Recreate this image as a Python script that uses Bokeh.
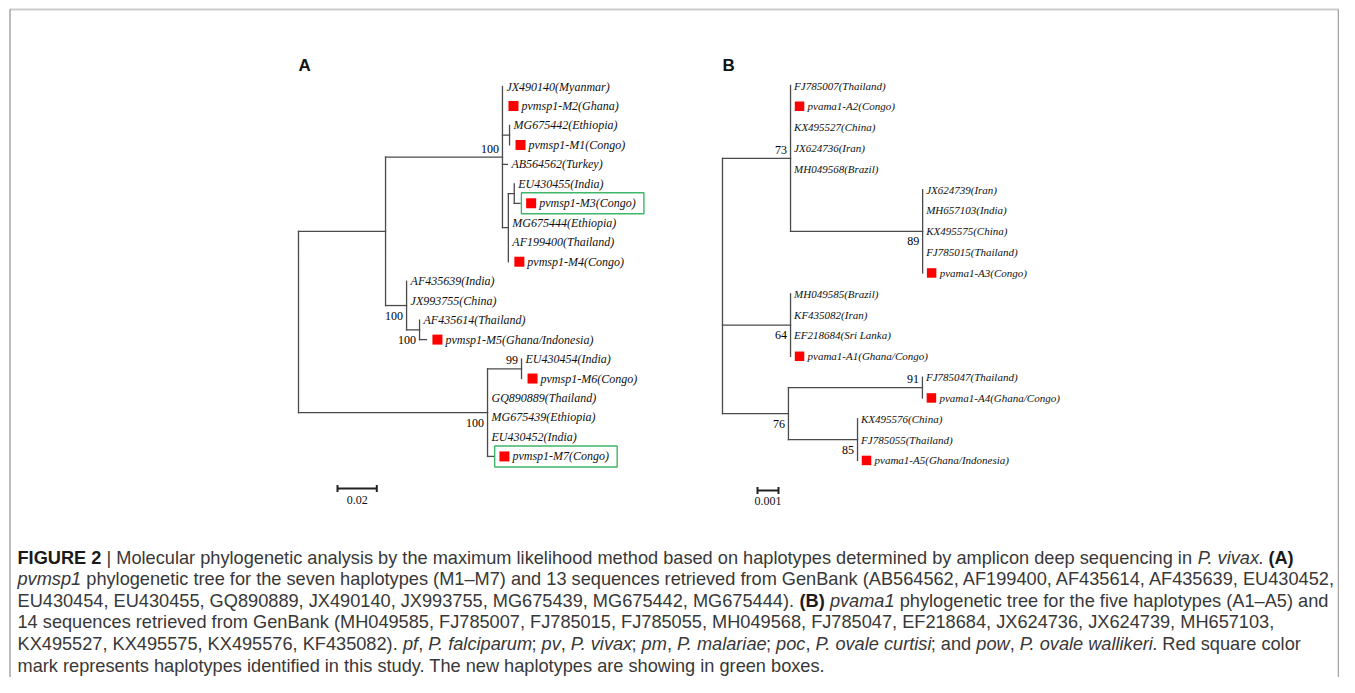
from bokeh.plotting import figure
from bokeh.models import Range1d, ColumnDataSource
from bokeh.core.properties import value
from bokeh.embed import file_html
from bokeh.resources import INLINE

# ------------------------------------------------------------------ data
# Tree A : pvmsp1  (nodes listed in pre-order, parents before children)
A_node = ["rA", "a1", "a1a", "JX490140(Myanmar)", "pvmsp1-M2(Ghana)", "a_mg",
          "MG675442(Ethiopia)", "pvmsp1-M1(Congo)", "AB564562(Turkey)", "a_big", "a_eu",
          "EU430455(India)", "pvmsp1-M3(Congo)", "MG675444(Ethiopia)", "AF199400(Thailand)",
          "pvmsp1-M4(Congo)", "a1b", "AF435639(India)", "JX993755(China)", "a_af",
          "AF435614(Thailand)", "pvmsp1-M5(Ghana/Indonesia)", "a2", "a_eu2", "EU430454(India)",
          "pvmsp1-M6(Congo)", "GQ890889(Thailand)", "MG675439(Ethiopia)", "EU430452(India)",
          "pvmsp1-M7(Congo)"]
A_parent = [None, "rA", "a1", "a1a", "a1a", "a1a", "a_mg", "a_mg", "a1a", "a1a", "a_big",
            "a_eu", "a_eu", "a_big", "a_big", "a_big", "a1", "a1b", "a1b", "a1b", "a_af",
            "a_af", "rA", "a2", "a_eu2", "a_eu2", "a2", "a2", "a2", "a2"]
A_length = [0, 0.0443, 0.0595, 0, 0, 0.0036, 0, 0, 0.0025, 0.003, 0.003, 0, 0.003, 0, 0, 0,
            0.0107, 0, 0, 0.0066, 0, 0.0035, 0.0962, 0.0173, 0, 0, 0, 0, 0, 0.003]
A_boot_node = ["a1a", "a1b", "a_af", "a2", "a_eu2"]
A_boot_value = [100, 100, 100, 100, 99]
A_boot_side = ["above", "below", "below", "below", "above"]
A_new = ["pvmsp1-M3(Congo)", "pvmsp1-M7(Congo)"]
A_scale = 0.02

# Tree B : pvama1
B_node = ["rB", "b73", "FJ785007(Thailand)", "pvama1-A2(Congo)", "KX495527(China)",
          "JX624736(Iran)", "MH049568(Brazil)", "b89", "JX624739(Iran)", "MH657103(India)",
          "KX495575(China)", "FJ785015(Thailand)", "pvama1-A3(Congo)", "b64",
          "MH049585(Brazil)", "KF435082(Iran)", "EF218684(Sri Lanka)", "pvama1-A1(Ghana/Congo)",
          "b76", "b91", "FJ785047(Thailand)", "pvama1-A4(Ghana/Congo)", "b85",
          "KX495576(China)", "FJ785055(Thailand)", "pvama1-A5(Ghana/Indonesia)"]
B_parent = [None, "rB", "b73", "b73", "b73", "b73", "b73", "b73", "b89", "b89", "b89", "b89",
            "b89", "rB", "b64", "b64", "b64", "b64", "rB", "b76", "b91", "b91", "b76", "b85",
            "b85", "b85"]
B_length = [0, 0.00324, 0, 0, 0, 0, 0, 0.00629, 0, 0, 0, 0, 0, 0.00324, 0, 0, 0, 0,
            0.00314, 0.00638, 0, 0, 0.00329, 0, 0, 0]
B_boot_node = ["b73", "b89", "b64", "b91", "b76", "b85"]
B_boot_value = [73, 89, 64, 91, 76, 85]
B_boot_side = ["above", "below", "below", "above", "below", "below"]
B_new = []
B_scale = 0.001

CAPTION = [
    [("b", "FIGURE 2"), ("r", " | Molecular phylogenetic analysis by the maximum likelihood method based on haplotypes determined by amplicon deep sequencing in "), ("i", "P. vivax"), ("r", ". "), ("b", "(A)")],
    [("i", "pvmsp1"), ("r", " phylogenetic tree for the seven haplotypes (M1\u2013M7) and 13 sequences retrieved from GenBank (AB564562, AF199400, AF435614, AF435639, EU430452,")],
    [("r", "EU430454, EU430455, GQ890889, JX490140, JX993755, MG675439, MG675442, MG675444). "), ("b", "(B)"), ("i", " pvama1"), ("r", " phylogenetic tree for the five haplotypes (A1\u2013A5) and")],
    [("r", "14 sequences retrieved from GenBank (MH049585, FJ785007, FJ785015, FJ785055, MH049568, FJ785047, EF218684, JX624736, JX624739, MH657103,")],
    [("r", "KX495527, KX495575, KX495576, KF435082). "), ("i", "pf"), ("r", ", "), ("i", "P. falciparum"), ("r", "; "), ("i", "pv"), ("r", ", "), ("i", "P. vivax"), ("r", "; "), ("i", "pm"), ("r", ", "), ("i", "P. malariae"), ("r", "; "), ("i", "poc"), ("r", ", "), ("i", "P. ovale curtisi"), ("r", "; and "), ("i", "pow"), ("r", ", "), ("i", "P. ovale wallikeri."), ("r", " Red square color")],
    [("r", "mark represents haplotypes identified in this study. The new haplotypes are showing in green boxes.")],
]

# ------------------------------------------------------------------ styles
W, H = 1339, 677
LEFT, TOP = 0, 0
SERIF = value("Liberation Serif")
SANS = value("Liberation Sans")
LINE_C = "#4a4a4a"
TXT_C = "#111111"
GREEN = "#3fb66a"

GEOM = {
    "A": dict(x0=298, ppu=1965.0, y0=86, dy=19.47, fs="12px", plain_off=4, sq_off=11, sq=10,
              txt_off=19, box_off=62.5, box_w=122.5, box_h=21, bar_px=(337, 488), bar_lab=499),
    "B": dict(x0=722, ppu=21000.0, y0=85, dy=20.83, fs="11px", plain_off=3.5, sq_off=9, sq=9.5,
              txt_off=17, box_off=60, box_w=120, box_h=21, bar_px=(757, 490), bar_lab=500),
}

p = figure(width=W, height=H, x_range=Range1d(LEFT, LEFT + W), y_range=Range1d(TOP + H, TOP),
           x_axis_type=None, y_axis_type=None, output_backend="svg", toolbar_location=None,
           min_border=0, min_border_left=0, min_border_right=0, min_border_top=0,
           min_border_bottom=0)
p.grid.visible = False
p.outline_line_color = None
p.background_fill_color = "white"
p.border_fill_color = "white"

# page frame
p.segment(x0=[9], y0=[9], x1=[LEFT + W], y1=[9], line_color="#cccccc", line_width=2)
p.segment(x0=[9.5, LEFT + W - 1], y0=[9, 9], x1=[9.5, LEFT + W - 1], y1=[TOP + H, TOP + H],
          line_color="#a4a4a4", line_width=1.5)


def layout(nodes, parents, lengths):
    kids = {n: [] for n in nodes}
    for n, par in zip(nodes, parents):
        if par is not None:
            kids[par].append(n)
    xpos = {}
    for n, par, L in zip(nodes, parents, lengths):
        xpos[n] = 0.0 if par is None else xpos[par] + L
    leaves = [n for n in nodes if not kids[n]]
    ypos = {n: float(i) for i, n in enumerate(leaves)}
    for n in reversed(nodes):
        if kids[n]:
            ypos[n] = (ypos[kids[n][0]] + ypos[kids[n][-1]]) / 2.0
    return kids, xpos, ypos, leaves


def draw_tree(key, nodes, parents, lengths, bnode, bval, bside, new, scale):
    g = GEOM[key]
    ppu, dy = g["ppu"], g["dy"]
    p.extra_x_ranges[key] = Range1d((LEFT - g["x0"]) / ppu, (LEFT + W - g["x0"]) / ppu)
    p.extra_y_ranges[key] = Range1d((TOP + H - g["y0"]) / dy, (TOP - g["y0"]) / dy)
    kw = dict(x_range_name=key, y_range_name=key)
    kids, xpos, ypos, leaves = layout(nodes, parents, lengths)

    x0s, y0s, x1s, y1s = [], [], [], []
    for n, par in zip(nodes, parents):
        if par is not None and xpos[n] > xpos[par]:
            x0s.append(xpos[par]); x1s.append(xpos[n]); y0s.append(ypos[n]); y1s.append(ypos[n])
        if kids[n]:
            x0s.append(xpos[n]); x1s.append(xpos[n])
            y0s.append(ypos[kids[n][0]]); y1s.append(ypos[kids[n][-1]])
    p.segment(x0=x0s, y0=y0s, x1=x1s, y1=y1s, line_color=LINE_C, line_width=1.3,
              line_cap="square", **kw)

    marked = [n.startswith("pv") for n in leaves]
    lab = ColumnDataSource(dict(x=[xpos[n] for n in leaves], y=[ypos[n] for n in leaves],
                                t=leaves,
                                xo=[g["txt_off"] if m else g["plain_off"] for m in marked]))
    p.text(x="x", y="y", text="t", x_offset="xo", source=lab, text_font=SERIF,
           text_font_style="italic", text_font_size=g["fs"], text_color=TXT_C,
           text_baseline="middle", text_align="left", **kw)

    sq = [n for n, m in zip(leaves, marked) if m]
    p.scatter(x=[xpos[n] + g["sq_off"] / ppu for n in sq], y=[ypos[n] for n in sq],
              marker="square", size=g["sq"], fill_color="#ff0000", line_color=None, **kw)

    if new:
        p.rect(x=[xpos[n] + g["box_off"] / ppu for n in new], y=[ypos[n] for n in new],
               width=g["box_w"], height=g["box_h"], width_units="screen", height_units="screen",
               fill_color=None, line_color=GREEN, line_width=1.4, **kw)

    bs = ColumnDataSource(dict(x=[xpos[n] for n in bnode], y=[ypos[n] for n in bnode],
                               t=[str(v) for v in bval],
                               yo=[-8.5 if s == "above" else 10 for s in bside]))
    p.text(x="x", y="y", text="t", x_offset=-3.5, y_offset="yo", source=bs, text_font=SERIF,
           text_font_size="12px", text_color="#000000", text_baseline="middle",
           text_align="right", **kw)

    # scale bar
    bx = (g["bar_px"][0] - g["x0"]) / ppu
    by = (g["bar_px"][1] - g["y0"]) / dy
    tk = 3.5 / dy
    p.segment(x0=[bx, bx, bx + scale], y0=[by, by - tk, by - tk], x1=[bx + scale, bx, bx + scale],
              y1=[by, by + tk, by + tk], line_color="#222222", line_width=2, **kw)
    p.text(x=[bx + scale / 2], y=[(g["bar_lab"] - g["y0"]) / dy], text=[("%g" % scale)],
           text_font=SERIF, text_font_size="12px", text_color=TXT_C, text_baseline="middle",
           text_align="center", **kw)


draw_tree("A", A_node, A_parent, A_length, A_boot_node, A_boot_value, A_boot_side, A_new, A_scale)
draw_tree("B", B_node, B_parent, B_length, B_boot_node, B_boot_value, B_boot_side, B_new, B_scale)

p.text(x=[298, 722], y=[65, 65], text=["A", "B"], text_font=SANS, text_font_style="bold",
       text_font_size="17px", text_color="#111111", text_baseline="middle", text_align="left")

# ------------------------------------------------------------------ caption
REG_W = {' ': 278, '(': 333, ')': 333, ',': 278, '-': 333, '.': 278, ';': 278, '|': 260,
         '\u2013': 556, ':': 278, '/': 278}
for ch, wv in zip("abcdefghijklmnopqrstuvwxyz",
                  [556, 556, 500, 556, 556, 278, 556, 556, 222, 222, 500, 222, 833, 556, 556, 556,
                   556, 333, 500, 278, 556, 500, 722, 500, 500, 500]):
    REG_W[ch] = wv
UP = [667, 667, 722, 722, 667, 611, 778, 722, 278, 500, 667, 556, 833, 722, 778, 667, 778, 722,
      667, 611, 722, 667, 944, 667, 667, 611]
for ch, wv in zip("ABCDEFGHIJKLMNOPQRSTUVWXYZ", UP):
    REG_W[ch] = wv
for ch in "0123456789":
    REG_W[ch] = 556
BOLD_W = {' ': 278, '(': 333, ')': 333, '|': 280}
for ch, wv in zip("ABCDEFGHIJKLMNOPQRSTUVWXYZ",
                  [722, 722, 722, 722, 667, 611, 778, 722, 278, 556, 722, 611, 833, 722, 778, 667,
                   778, 722, 667, 611, 722, 667, 944, 667, 667, 611]):
    BOLD_W[ch] = wv
for ch in "0123456789":
    BOLD_W[ch] = 556
KERN = {("P", "."): -170, ("1", "1"): -74}

CAP_FS = 18.2
CAP_X, CAP_Y, CAP_LH = 17, 557, 21.6


def tw(t, style):
    tab = BOLD_W if style == "b" else REG_W
    units = sum(tab.get(c, 556) for c in t)
    units += sum(KERN.get((a, b), 0) for a, b in zip(t, t[1:]))
    return units * CAP_FS / 1000.0


segs = {"r": dict(x=[], y=[], t=[]), "i": dict(x=[], y=[], t=[]), "b": dict(x=[], y=[], t=[])}
for li, line in enumerate(CAPTION):
    x = CAP_X
    y = CAP_Y + li * CAP_LH
    for style, t in line:
        stripped = t.lstrip(" ")
        lead = len(t) - len(stripped)
        if stripped:
            segs[style]["x"].append(x + tw(" " * lead, style))
            segs[style]["y"].append(y)
            segs[style]["t"].append(stripped)
        x += tw(t, style)

for style, fst, col in [("r", "normal", "#383838"), ("i", "italic", "#383838"),
                        ("b", "bold", "#1a1a1a")]:
    d = segs[style]
    p.text(x=d["x"], y=d["y"], text=d["t"], text_font=SANS, text_font_style=fst,
           text_font_size="%gpx" % CAP_FS, text_color=col, text_baseline="middle",
           text_align="left")

open("out.html", "w").write(file_html(p, INLINE))
